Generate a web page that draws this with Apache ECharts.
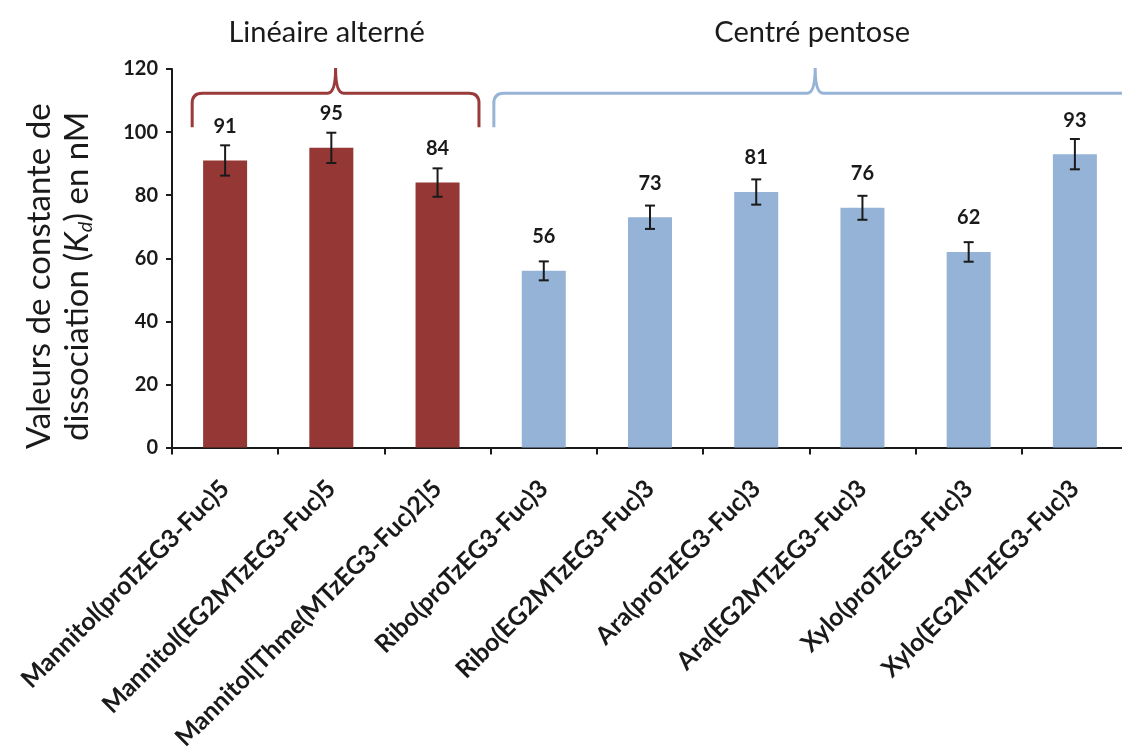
<!DOCTYPE html>
<html>
<head>
<meta charset="utf-8">
<script src="https://cdn.jsdelivr.net/npm/echarts@6/dist/echarts.min.js"></script>
<style>
html,body{margin:0;padding:0;background:#fff;}
#c{width:1122px;height:747px;}
</style>
</head>
<body>
<div id="c"></div>
<script>
const categories = [
  'Mannitol(proTzEG3-Fuc)5',
  'Mannitol(EG2MTzEG3-Fuc)5',
  'Mannitol[Thme(MTzEG3-Fuc)2]5',
  'Ribo(proTzEG3-Fuc)3',
  'Ribo(EG2MTzEG3-Fuc)3',
  'Ara(proTzEG3-Fuc)3',
  'Ara(EG2MTzEG3-Fuc)3',
  'Xylo(proTzEG3-Fuc)3',
  'Xylo(EG2MTzEG3-Fuc)3'
];
const kdValues = [91, 95, 84, 56, 73, 81, 76, 62, 93];
const kdErrors = [4.8, 4.8, 4.5, 3.0, 3.7, 4.0, 3.8, 3.1, 4.8];
const groupNames = ['Linéaire alterné', 'Centré pentose'];
const groupStart = [0, 3];
const groupEnd = [2, 8];
const yTicks = [0, 20, 40, 60, 80, 100, 120];

const RED = '#953735';
const BLUE = '#95B3D7';
const INK = '#1a1a1a';
const FONT = 'Lato';

const barColors = categories.map((c, i) => (i <= groupEnd[0] ? RED : BLUE));
const bracketColors = ['#9a3a3a', '#97b4d6'];
const bracketPad = [[-0.31, 0.39], [-0.47, 0.58]];
const titleShift = [-9, -3];

const chart = echarts.init(document.getElementById('c'));

const option = {
  backgroundColor: '#ffffff',
  animation: false,
  textStyle: { fontFamily: FONT },
  grid: { left: 172, right: -6, top: 69, bottom: 299.5, containLabel: false, outerBoundsMode: 'none' },
  xAxis: {
    type: 'category',
    data: categories,
    axisLine: { lineStyle: { color: INK, width: 2 } },
    axisTick: { show: true, length: 7, lineStyle: { color: INK, width: 2 } },
    axisLabel: {
      rotate: 45, margin: 37, color: INK, fontWeight: 'bold', fontSize: 25, fontFamily: FONT,
      interval: 0
    }
  },
  yAxis: {
    type: 'value',
    min: yTicks[0], max: yTicks[yTicks.length - 1], interval: 20,
    axisLine: { show: true, lineStyle: { color: INK, width: 2 } },
    axisTick: { show: true, length: 6, lineStyle: { color: INK, width: 2 } },
    splitLine: { show: false },
    axisLabel: { color: INK, fontWeight: 'bold', fontSize: 20, margin: 14, fontFamily: FONT },
    name: 'Valeurs de constante de\ndissociation ({k|K}{sub|d}) en nM',
    nameLocation: 'middle',
    nameRotate: 90,
    nameGap: 76,
    nameTextStyle: {
      color: INK, fontSize: 33, fontFamily: FONT, lineHeight: 38,
      padding: [0, 36, 0, 0],
      rich: {
        k: { fontSize: 33, fontStyle: 'italic', fontFamily: FONT, color: INK, lineHeight: 38 },
        sub: { fontSize: 20, fontStyle: 'italic', fontFamily: FONT, color: INK, lineHeight: 24, verticalAlign: 'bottom' }
      }
    }
  },
  series: [
    {
      type: 'bar',
      data: kdValues.map((v, i) => ({ value: v, itemStyle: { color: barColors[i] } })),
      barWidth: 44,
      label: {
        show: true, position: 'top', distance: 24, color: INK,
        fontWeight: 'bold', fontSize: 20, fontFamily: FONT
      },
      z: 2
    },
    {
      type: 'custom',
      data: kdValues.map((v, i) => [i, v, kdErrors[i]]),
      encode: { x: 0, y: 1 },
      z: 3,
      silent: true,
      renderItem: function (params, api) {
        const x = api.value(0), v = api.value(1), e = api.value(2);
        const t = api.coord([x, v + e]);
        const b = api.coord([x, v - e]);
        const hw = 5;
        const st = { stroke: INK, lineWidth: 2 };
        return {
          type: 'group',
          children: [
            { type: 'line', shape: { x1: t[0], y1: t[1], x2: b[0], y2: b[1] }, style: st },
            { type: 'line', shape: { x1: t[0] - hw, y1: t[1], x2: t[0] + hw, y2: t[1] }, style: st },
            { type: 'line', shape: { x1: b[0] - hw, y1: b[1], x2: b[0] + hw, y2: b[1] }, style: st }
          ]
        };
      }
    },
    {
      type: 'custom',
      data: groupNames.map((n, i) => [groupStart[i], groupEnd[i], 0]),
      encode: { x: [0, 1], y: 2 },
      clip: false,
      silent: true,
      z: 1,
      renderItem: function (params, api) {
        const gi = params.dataIndex;
        const s = api.value(0), e = api.value(1);
        const cw = api.size([1, 0])[0];
        const xL = api.coord([s, 0])[0] + bracketPad[gi][0] * cw;
        const xR = api.coord([e, 0])[0] + bracketPad[gi][1] * cw;
        const xm = (xL + xR) / 2;
        const yb = api.coord([0, 101.5])[1];
        const yh = api.coord([0, 112.3])[1];
        const yt = api.coord([0, 120.3])[1];
        const r = 10, pr = 8;
        const p = `M${xL},${yb} L${xL},${yh + r} Q${xL},${yh} ${xL + r},${yh} L${xm - pr},${yh} Q${xm},${yh} ${xm},${yt} Q${xm},${yh} ${xm + pr},${yh} L${xR - r},${yh} Q${xR},${yh} ${xR},${yh + r} L${xR},${yb}`;
        return {
          type: 'group',
          children: [
            { type: 'path', shape: { pathData: p }, style: { fill: 'none', stroke: bracketColors[gi], lineWidth: 3 } },
            { type: 'text', style: { text: groupNames[gi], x: xm + titleShift[gi], y: yt - 35, align: 'center', verticalAlign: 'middle', fontSize: 29, fontFamily: FONT, fill: INK } }
          ]
        };
      }
    }
  ]
};
chart.setOption(option);
</script>
</body>
</html>
